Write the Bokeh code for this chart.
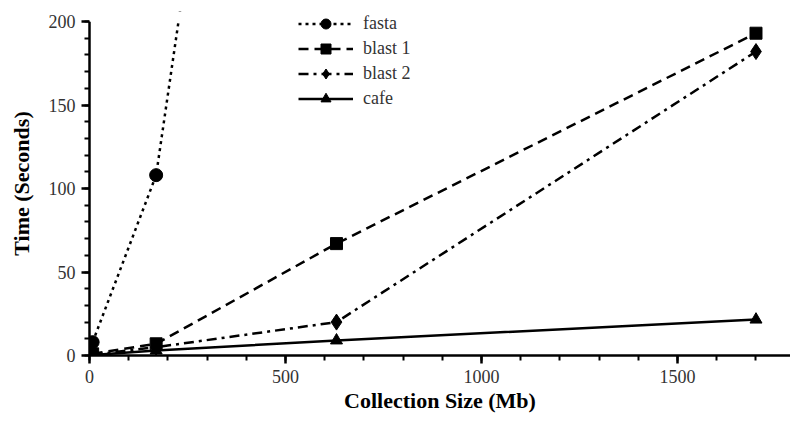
from bokeh.plotting import figure
from bokeh.models import Range1d, SingleIntervalTicker, Legend, LegendItem, BoxAnnotation
from bokeh.embed import file_html
from bokeh.resources import INLINE

sizes = [8, 170, 630, 1700]
fasta = [8, 108, 850, None]
blast1 = [1, 7, 67, 193]
blast2 = [0.5, 5, 20, 182]
cafe = [0.3, 3, 9, 21.5]
x_ticks_interval = 500
y_ticks_interval = 50
y_max = 200

FONT = "Liberation Serif"

p = figure(width=790, height=421, output_backend="svg", toolbar_location=None,
           x_range=Range1d(0, 1788), y_range=Range1d(0, 206),
           min_border_left=89, min_border_right=0, min_border_top=11, min_border_bottom=66)
p.outline_line_color = None
p.grid.visible = False
p.background_fill_color = "white"

series = [
    ("fasta", fasta, "3 4", "circle", 13),
    ("blast 1", blast1, "10 6", "square", 12),
    ("blast 2", blast2, "10 5 3 5", "diamond", 16),
    ("cafe", cafe, "solid", "triangle", 12),
]
items = []
for name, ys, dash, marker, ms in series:
    xs = [x for x, y in zip(sizes, ys) if y is not None]
    yv = [y for y in ys if y is not None]
    ln = p.line(xs, yv, line_color="black", line_width=2.5, line_dash=dash)
    xm = [x for x, y in zip(xs, yv) if y <= y_max]
    ym = [y for y in yv if y <= y_max]
    sc = p.scatter(xm, ym, marker=marker, size=ms, fill_color="black", line_color="black")
    items.append(LegendItem(label=name, renderers=[ln, sc]))

# mask area above the axis maximum so lines end at 200 as in the original
p.add_layout(BoxAnnotation(bottom=y_max, fill_color="white", fill_alpha=1.0, line_color=None))

legend = Legend(items=items, location=(209, 244), padding=0, margin=0,
                glyph_width=55, glyph_height=25, spacing=0, label_standoff=10,
                label_text_font=FONT, label_text_font_size="18px", label_text_color="#333333",
                border_line_color=None, background_fill_alpha=0)
p.add_layout(legend)

for ax in (p.xaxis[0], p.yaxis[0]):
    ax.axis_line_width = 2.5
    ax.major_tick_line_width = 2.5
    ax.minor_tick_line_width = 2
    ax.major_tick_out = 8
    ax.major_tick_in = 0
    ax.minor_tick_out = 5
    ax.minor_tick_in = 0
    ax.major_label_text_font = FONT
    ax.major_label_text_font_size = "18px"
    ax.major_label_text_color = "#333333"
    ax.major_label_standoff = 6
    ax.axis_label_text_font = FONT
    ax.axis_label_text_font_style = "bold"
    ax.axis_label_text_font_size = "22px"
    ax.axis_label_text_color = "black"

p.yaxis.bounds = (0, y_max)
p.xaxis.ticker = SingleIntervalTicker(interval=x_ticks_interval, num_minor_ticks=5)
p.yaxis.ticker = SingleIntervalTicker(interval=y_ticks_interval, num_minor_ticks=5)
p.xaxis.axis_label = "Collection Size (Mb)"
p.yaxis.axis_label = "Time (Seconds)"
p.xaxis.axis_label_standoff = 2
p.yaxis.axis_label_standoff = 12

open("out.html", "w").write(file_html(p, INLINE))
